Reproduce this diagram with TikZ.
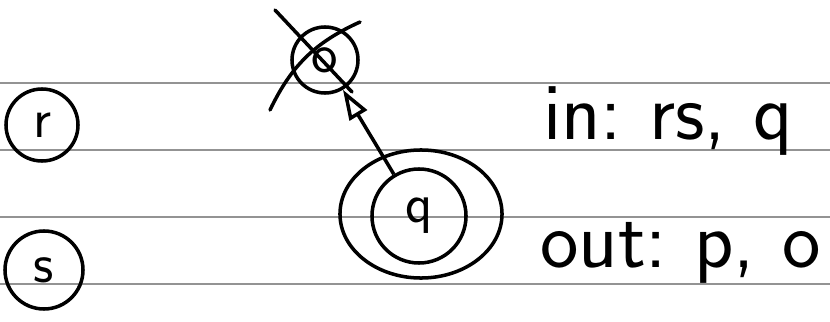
\documentclass[tikz,border=0pt]{standalone}
\usepackage{tikz}
\usetikzlibrary{shapes.geometric,arrows.meta,positioning,calc}
\tikzset{
  ruling/.style={draw=gray!85, line width=1pt},
  state/.style={circle, draw, line width=2.5pt, inner sep=0pt, font=\fontsize{40}{42}\selectfont\sffamily},
  shell/.style={ellipse, draw, line width=2.5pt, inner sep=0pt},
  strike/.style={line width=2.5pt, line cap=round},
  edge/.style={-{Triangle[open, length=0.75cm, width=0.5cm, line width=2.5pt]}, line width=2.5pt},
  note/.style={anchor=base west, inner sep=0pt, font=\fontsize{58}{60}\selectfont\sffamily},
}
\begin{document}
\begin{tikzpicture}[x=0.025cm, y=-0.025cm]
  \useasboundingbox (0,0) rectangle (830,322);

  % ruled lines of the page
  \foreach \yy in {83,150,217,284}
    \draw[ruling] (0,\yy) -- (830,\yy);

  % states
  \node[state, minimum size=1.8cm] (r) at (42,125) {r};
  \node[state, minimum size=1.95cm] (s) at (44,270) {s};
  \node[state, minimum size=1.65cm] (p) at (325,60) {o};
  \node[state, minimum size=2.35cm] (q) at (419,216) {q};
  \node[shell, minimum width=4.05cm, minimum height=3.2cm] (qshell) at (421,214) {};

  % crossed out state
  \draw[strike] ([shift={(-50,-50)}]p.center) -- ([shift={(27,32)}]p.center);
  \draw[strike] ([shift={(-55,50)}]p.center) to[bend left=20] ([shift={(35,-38)}]p.center);

  % edge
  \draw[edge] (q) -- (p);

  % lists
  \node[note] (inlist) at (543,139) {in:\,\,rs,\,\,q};
  \node[note] (outlist) at (540,267) {out:\,\,p,\,\,o};
\end{tikzpicture}
\end{document}
